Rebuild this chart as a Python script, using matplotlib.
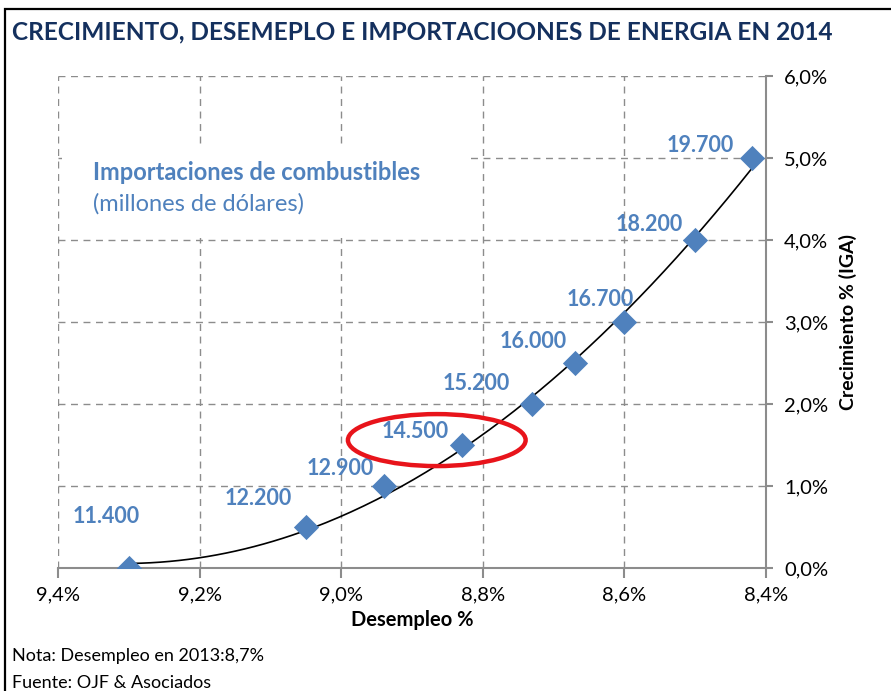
import matplotlib.pyplot as plt
import numpy as np
from matplotlib.patches import Ellipse, Rectangle
from matplotlib.ticker import FuncFormatter

plt.rcParams['font.family'] = ['Lato', 'DejaVu Sans']

# datos
desempleo = [9.30, 9.05, 8.94, 8.83, 8.73, 8.67, 8.60, 8.50, 8.42]
crecimiento = [0.0, 0.5, 1.0, 1.5, 2.0, 2.5, 3.0, 4.0, 5.0]
importaciones = ['11.400', '12.200', '12.900', '14.500', '15.200',
                 '16.000', '16.700', '18.200', '19.700']

# desplazamiento de las etiquetas (pixeles)
offsets = [(-23, 52), (-48, 29), (-43, 18), (-46, 14), (-56, 21),
           (-42, 22), (-24, 23), (-46, 16), (-52, 13)]

BLUE = '#4F81BD'
GRAY = '#8C8C8C'

fig = plt.figure(figsize=(8.91, 6.91), dpi=100)
ax = fig.add_axes([0.0651, 0.178, 0.7946, 0.712])

# línea de tendencia polinómica
coef = np.polyfit(desempleo, crecimiento, 2)
xs = np.linspace(min(desempleo), max(desempleo), 200)
ax.plot(xs, np.polyval(coef, xs), color='black', linewidth=1.2, zorder=3)

ax.scatter(desempleo, crecimiento, marker='D', s=165, color=BLUE, zorder=4, linewidths=0)

for x, y, lab, (dx, dy) in zip(desempleo, crecimiento, importaciones, offsets):
    ax.annotate(lab, (x, y), xytext=(dx, dy), textcoords='offset pixels',
                ha='center', va='center', fontsize=15.5, fontweight='bold', color=BLUE)

ax.add_patch(Ellipse((8.865, 1.56), 0.251, 0.634, fill=False, edgecolor='#E8141B',
                     linewidth=3.2, zorder=5))

ax.set_xlim(9.4, 8.4)
ax.set_ylim(0, 6)
ax.set_xticks(np.arange(8.4, 9.41, 0.2))
ax.set_yticks(np.arange(0, 6.1, 1))
ax.xaxis.set_major_formatter(FuncFormatter(lambda v, p: f'{v:.1f}%'.replace('.', ',')))
ax.yaxis.set_major_formatter(FuncFormatter(lambda v, p: f'{v:.1f}%'.replace('.', ',')))
ax.yaxis.tick_right()
ax.yaxis.set_label_position('right')

ax.grid(True, linestyle=(0, (5, 4)), color=GRAY, linewidth=1)
ax.set_axisbelow(True)
for s in ['left', 'top']:
    ax.spines[s].set_visible(False)
for s in ['bottom', 'right']:
    ax.spines[s].set_color(GRAY)
    ax.spines[s].set_linewidth(1.5)
ax.tick_params(axis='x', colors=GRAY, length=7, width=1.5, labelsize=14.5, labelcolor='black', pad=6)
ax.tick_params(axis='y', colors=GRAY, length=5, width=1.5, labelsize=14.5, labelcolor='black', pad=8)

ax.set_xlabel('Desempleo %', fontsize=14.5, fontweight='bold', labelpad=5)
ax.set_ylabel('Crecimiento % (IGA)', fontsize=14, fontweight='bold', labelpad=8)

# cuadro de texto con fondo blanco (tapa la cuadrícula)
ax.add_patch(Rectangle((0.006, 0.671), 0.576, 0.189, transform=ax.transAxes,
                       facecolor='white', edgecolor='none', zorder=1))
ax.text(0.049, 0.803, 'Importaciones de combustibles', transform=ax.transAxes,
        fontsize=17, fontweight='bold', color=BLUE, va='center', zorder=2)
ax.text(0.049, 0.740, '(millones de dólares)', transform=ax.transAxes,
        fontsize=17, color=BLUE, va='center', zorder=2)

fig.text(12 / 891, 1 - 32 / 691, 'CRECIMIENTO, DESEMEPLO E IMPORTACIOONES DE ENERGIA EN 2014',
         fontsize=17.6, fontweight='bold', color='#14305E', va='center')
fig.text(12 / 891, 1 - 656 / 691, 'Nota: Desempleo en 2013:8,7%', fontsize=13, va='center')
fig.text(12 / 891, 1 - 683 / 691, 'Fuente: OJF & Asociados', fontsize=13, va='center')

fig.add_artist(Rectangle((5 / 891, -0.1), 1.2, 1.1 - 9 / 691, transform=fig.transFigure,
                         fill=False, edgecolor='black', linewidth=1.6))

plt.savefig('out.png', dpi=100)
